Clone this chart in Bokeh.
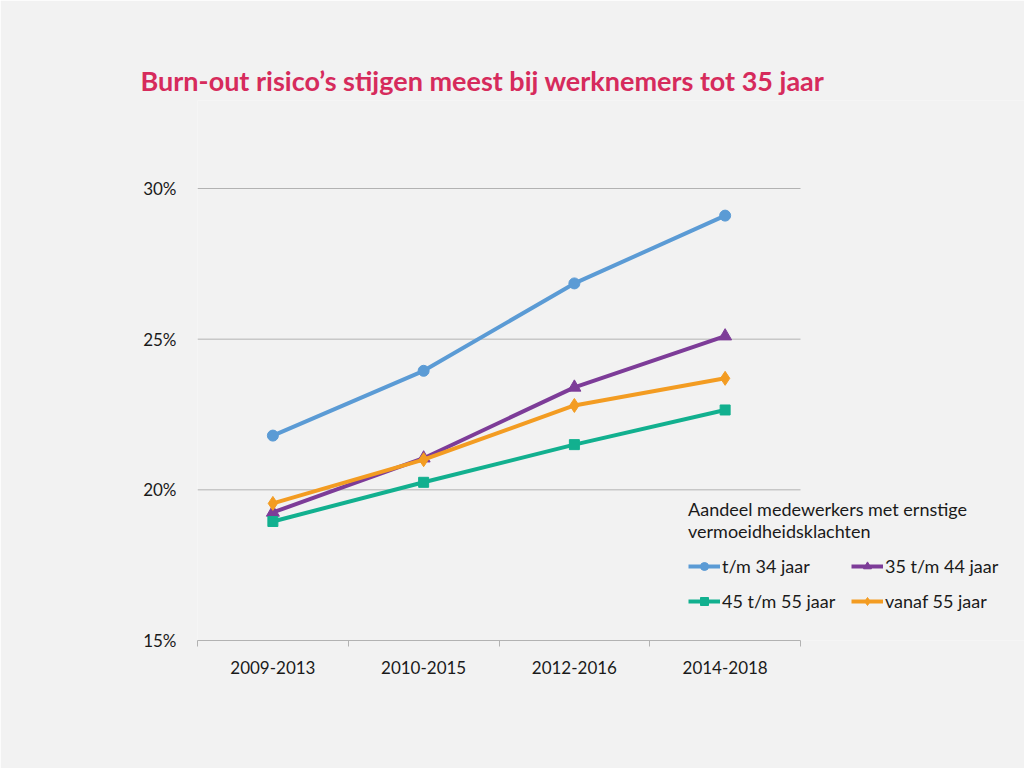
from bokeh.plotting import figure
from bokeh.models import FixedTicker, PrintfTickFormatter, Legend, LegendItem, Range1d
from bokeh.embed import file_html
from bokeh.resources import INLINE

# ---- data ----
periods = ["2009-2013", "2010-2015", "2012-2016", "2014-2018"]
series_names = ["t/m 34 jaar", "35 t/m 44 jaar", "45 t/m 55 jaar", "vanaf 55 jaar"]
tm_34 = [21.8, 23.95, 26.85, 29.1]
v35_44 = [19.25, 21.05, 23.4, 25.1]
v45_55 = [18.95, 20.25, 21.5, 22.65]
vanaf_55 = [19.55, 21.0, 22.8, 23.7]
y_ticks = [15, 20, 25, 30]
title_text = "Burn-out risico\u2019s stijgen meest bij werknemers tot 35 jaar"
legend_title = "Aandeel medewerkers met ernstige\nvermoeidheidsklachten"

colors = ["#5b9bd5", "#7d3c98", "#12b08f", "#f39c22"]
markers = ["circle", "triangle", "square", "diamond"]
msizes = [11, 13, 10, 14]
BG = "#f2f2f2"
GRID = "#b2b2b2"
FONT = "Lato"
TXT = "#1a1a1a"

xs = [i + 1 for i in range(len(periods))]
x_lo, x_hi = 0.5, len(periods) + 0.5
# frame runs from the y axis to the right edge of the canvas; the category
# axis only covers x_lo..x_hi (first 603 px), the rest holds the legend
cat_px = 603 / len(periods)
frame_w = 1024 - 197
x_end = x_lo + frame_w / cat_px

# value axis: 15..30 spans 452 px; the frame reaches higher (to y=100 px) so that
# the title can sit close to it; no ticks or gridlines above 30
y_lo, y_top = y_ticks[0], y_ticks[-1]
px_per_unit = 452 / (y_top - y_lo)
frame_top = 100
y_end = y_top + (188 - frame_top) / px_per_unit

p = figure(width=1024, height=768, output_backend="svg", toolbar_location=None,
           x_range=Range1d(x_lo, x_end), y_range=Range1d(y_lo, y_end),
           min_border_left=197, min_border_right=0, min_border_top=frame_top, min_border_bottom=128,
           background_fill_color=BG, border_fill_color=BG)
p.outline_line_color = None
p.xgrid.grid_line_color = None
p.ygrid.grid_line_color = None

# horizontal gridlines, limited to the category span
grid_vals = [v for v in y_ticks if v != y_ticks[0]]
p.segment(x0=[x_lo] * len(grid_vals), x1=[x_hi] * len(grid_vals), y0=grid_vals, y1=grid_vals,
          line_color=GRID, line_width=1, level="underlay")

# x axis
xa = p.xaxis[0]
xa.bounds = (x_lo, x_hi)
xa.ticker = FixedTicker(ticks=xs, minor_ticks=[x - 0.5 for x in xs] + [x_hi])
xa.major_label_overrides = {x: lab for x, lab in zip(xs, periods)}
xa.axis_line_color = GRID
xa.major_tick_line_color = None
xa.minor_tick_line_color = GRID
xa.minor_tick_out = 6
xa.minor_tick_in = 0
xa.major_label_standoff = 14
xa.major_label_text_font = FONT
xa.major_label_text_font_size = "17px"
xa.major_label_text_color = TXT

# y axis
ya = p.yaxis[0]
ya.ticker = FixedTicker(ticks=y_ticks)
ya.formatter = PrintfTickFormatter(format="%d%%")
ya.axis_line_color = None
ya.major_tick_line_color = None
ya.minor_tick_line_color = None
ya.major_label_standoff = 15
ya.major_label_text_font = FONT
ya.major_label_text_font_size = "17px"
ya.major_label_text_color = TXT

items = []
for name, vals, c, m, s in zip(series_names, [tm_34, v35_44, v45_55, vanaf_55], colors, markers, msizes):
    r1 = p.line(xs, vals, line_color=c, line_width=4)
    r2 = p.scatter(xs, vals, marker=m, size=s, fill_color=c, line_color=c)
    items.append(LegendItem(label=name, renderers=[r1, r2]))

legend = Legend(items=items, location=(491, 28), orientation="horizontal", ncols=2,
                title=legend_title, title_text_font=FONT, title_text_font_size="18px",
                title_text_font_style="normal", title_text_color=TXT, title_standoff=13,
                label_text_font=FONT, label_text_font_size="18px", label_text_color=TXT,
                glyph_width=32, glyph_height=20, label_standoff=2, label_width=116,
                label_height=20, spacing=13,
                padding=0, margin=0, border_line_color=None, background_fill_alpha=0)
p.add_layout(legend, "center")

p.title.text = title_text
p.title.align = "left"
p.title.offset = -57
p.title.standoff = 8
p.title.text_font = FONT
p.title.text_font_size = "27px"
p.title.text_font_style = "bold"
p.title.text_color = "#d62b5c"

html = file_html(p, INLINE)
html = html.replace("<body>", "<body style=\"background:#f2f2f2\">", 1)
open("out.html", "w").write(html)
